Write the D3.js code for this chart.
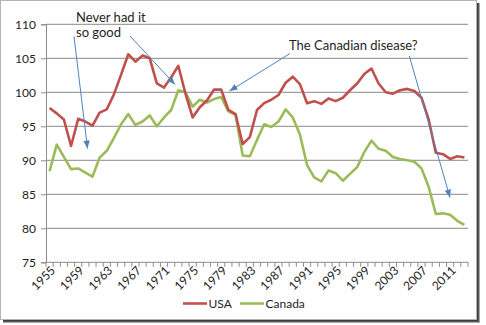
<!DOCTYPE html>
<html>
<head>
<meta charset="utf-8">
<script src="https://cdn.jsdelivr.net/npm/d3@7"></script>
<style>
  body { margin: 0; background: #fff; }
  text { font-family: Lato, "Liberation Sans", sans-serif; fill: #1e1e1e; }
</style>
</head>
<body>
<script>

// relative price level index, 1955-2013
var years = d3.range(1955, 2014);

var usa = [97.7, 96.9, 96.0, 92.1, 96.1, 95.7, 95.1, 97.0, 97.5, 99.7,
           102.6, 105.6, 104.5, 105.4, 105.0, 101.3, 100.7, 102.2, 103.9, 99.8,
           96.3, 97.8, 98.8, 100.4, 100.4, 97.4, 96.8, 92.4, 93.4, 97.4,
           98.4, 98.9, 99.6, 101.4, 102.3, 101.2, 98.4, 98.7, 98.3, 99.1,
           98.7, 99.2, 100.3, 101.3, 102.7, 103.5, 101.3, 100.0, 99.8, 100.3,
           100.5, 100.2, 99.2, 96.0, 91.1, 90.9, 90.2, 90.6, 90.4];

var canada = [88.4, 92.3, 90.5, 88.7, 88.8, 88.2, 87.6, 90.4, 91.4, 93.3,
              95.3, 96.8, 95.2, 95.7, 96.6, 95.0, 96.3, 97.4, 100.3, 100.0,
              97.9, 98.9, 98.5, 99.0, 99.3, 97.2, 96.7, 90.7, 90.6, 93.0,
              95.3, 94.9, 95.7, 97.5, 96.3, 93.8, 89.3, 87.5, 86.9, 88.5,
              88.1, 87.0, 88.0, 89.0, 91.2, 92.9, 91.7, 91.4, 90.5, 90.2,
              90.0, 89.8, 88.8, 86.1, 82.1, 82.2, 82.0, 81.1, 80.5];

var tick_years = [1955, 1959, 1963, 1967, 1971, 1975, 1979, 1983,
                  1987, 1991, 1995, 1999, 2003, 2007, 2011];

var y_ticks = [75, 80, 85, 90, 95, 100, 105, 110];

var usa_col = "#c0504d",
    canada_col = "#9bbb59",
    arrow_col = "#4f81bd";

var width = 486,
    height = 325;

var plot_left = 46,
    plot_right = 468,
    plot_top = 24.3,
    plot_bottom = 262.3;

var xScale = d3.scaleBand()
        .domain(years)
        .range([plot_left, plot_right]);

var yScale = d3.scaleLinear()
        .domain([75, 110])
        .range([plot_bottom, plot_top]);

function x_mid(d) { return xScale(d) + xScale.bandwidth() / 2; }

var svg = d3.select("body").append("svg")
            .attr("width", width)
            .attr("height", height);

// frame with a drop shadow on the right and bottom
svg.append("rect")
    .attr("x", 0.5).attr("y", 0.5)
    .attr("width", 476).attr("height", 319)
    .style("fill", "white")
    .style("stroke", "#b4b4b4");

[["#3c3c3c", 0], ["#5a5a5a", 1], ["#a8a8a8", 2]].forEach(function(s) {
    svg.append("rect")
        .attr("x", 477 + s[1]).attr("y", 3)
        .attr("width", 1).attr("height", 318 + s[1])
        .style("fill", s[0]);
    svg.append("rect")
        .attr("x", 3).attr("y", 320 + s[1])
        .attr("width", 475 + s[1]).attr("height", 1)
        .style("fill", s[0]);
});

var defs = svg.append("defs");

defs.append("marker")
    .attr("id", "arrow_head")
    .attr("markerUnits", "userSpaceOnUse")
    .attr("markerWidth", 9)
    .attr("markerHeight", 8)
    .attr("refX", 8)
    .attr("refY", 4)
    .attr("orient", "auto")
  .append("path")
    .attr("d", "M0,0.8 L8,4 L0,7.2 Z")
    .style("fill", arrow_col);

// horizontal gridlines
svg.append("g")
    .selectAll("line")
    .data(y_ticks.slice(1))
    .enter().append("line")
    .attr("x1", plot_left)
    .attr("x2", plot_right)
    .attr("y1", function(d) { return yScale(d); })
    .attr("y2", function(d) { return yScale(d); })
    .style("stroke", "#a0a0a0")
    .style("stroke-width", 1.2);

// y axis
var yAxis = d3.axisLeft(yScale)
        .tickValues(y_ticks)
        .tickSize(5)
        .tickPadding(5);

var y_g = svg.append("g")
        .attr("transform", "translate(" + plot_left + ",0)")
        .call(yAxis);

y_g.select(".domain").style("stroke", "#8c8c8c");
y_g.selectAll(".tick line").style("stroke", "#8c8c8c");
y_g.selectAll(".tick text")
    .style("font-size", "12px")
    .style("font-family", "Lato, sans-serif")
    .style("fill", "#1e1e1e");

// x axis: ticks sit between the categories
var x_g = svg.append("g");

x_g.append("line")
    .attr("x1", plot_left).attr("x2", plot_right)
    .attr("y1", plot_bottom).attr("y2", plot_bottom)
    .style("stroke", "#8c8c8c");

x_g.selectAll("line.tick")
    .data(years.concat([null]))
    .enter().append("line")
    .attr("class", "tick")
    .attr("x1", function(d) { return d === null ? plot_right : xScale(d); })
    .attr("x2", function(d) { return d === null ? plot_right : xScale(d); })
    .attr("y1", plot_bottom)
    .attr("y2", plot_bottom + 4.5)
    .style("stroke", "#8c8c8c");

x_g.selectAll("text")
    .data(tick_years)
    .enter().append("text")
    .attr("transform", function(d) {
        return "translate(" + (x_mid(d) + 3.5) + "," + (plot_bottom + 6) + ") rotate(-45)";
    })
    .attr("text-anchor", "end")
    .attr("dy", "0.35em")
    .style("font-size", "12px")
    .text(function(d) { return d; });

// the two series
var line = d3.line()
        .x(function(d, i) { return x_mid(years[i]); })
        .y(function(d) { return yScale(d); });

svg.append("path")
    .datum(canada)
    .attr("d", line)
    .style("fill", "none")
    .style("stroke", canada_col)
    .style("stroke-width", 2.6)
    .style("stroke-linejoin", "round");

svg.append("path")
    .datum(usa)
    .attr("d", line)
    .style("fill", "none")
    .style("stroke", usa_col)
    .style("stroke-width", 2.6)
    .style("stroke-linejoin", "round");

// annotations
var notes = [
    { lines: ["Never had it", "so good"], x: 76, y: 22 },
    { lines: ["The Canadian disease?"], x: 289, y: 49.5 }
];

notes.forEach(function(n) {
    var t = svg.append("text")
        .attr("x", n.x)
        .attr("y", n.y)
        .style("font-size", "13px");
    n.lines.forEach(function(l, i) {
        t.append("tspan")
            .attr("x", n.x)
            .attr("dy", i === 0 ? 0 : "1.15em")
            .text(l);
    });
});

var arrows = [
    [74, 36.5, 87.5, 148.5],
    [130, 36, 175, 84.5],
    [290, 53.5, 229.5, 91],
    [409.3, 56, 450, 197.5]
];

svg.append("g")
    .selectAll("line")
    .data(arrows)
    .enter().append("line")
    .attr("x1", function(d) { return d[0]; })
    .attr("y1", function(d) { return d[1]; })
    .attr("x2", function(d) { return d[2]; })
    .attr("y2", function(d) { return d[3]; })
    .attr("marker-end", "url(#arrow_head)")
    .style("stroke", arrow_col)
    .style("stroke-width", 1);

// legend
var legend = svg.append("g")
        .attr("transform", "translate(183,303.5)");

var legend_items = [["USA", usa_col, 0], ["Canada", canada_col, 57]];

legend_items.forEach(function(d) {
    legend.append("line")
        .attr("x1", d[2]).attr("x2", d[2] + 24)
        .attr("y1", 0).attr("y2", 0)
        .style("stroke", d[1])
        .style("stroke-width", 2.6);
    legend.append("text")
        .attr("x", d[2] + 25.5)
        .attr("dy", "0.35em")
        .style("font-size", "12px")
        .text(d[0]);
});

</script>
</body>
</html>
